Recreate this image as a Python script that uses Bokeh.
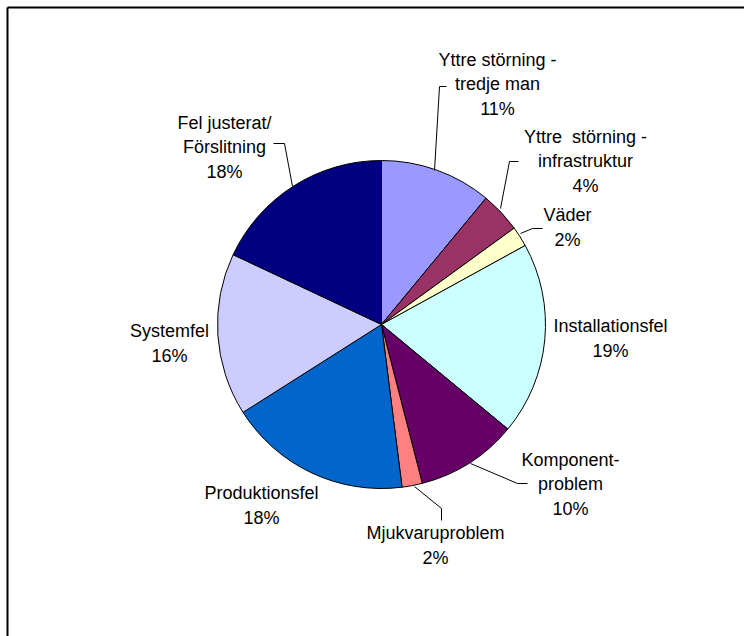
import math

from bokeh.core.properties import value
from bokeh.embed import file_html
from bokeh.models import ColumnDataSource, Range1d
from bokeh.plotting import figure
from bokeh.resources import INLINE

# Fault causes, clockwise from 12 o'clock
categories = [
    "Yttre störning -\ntredje man",
    "Yttre\u00a0 störning -\ninfrastruktur",
    "Väder",
    "Installationsfel",
    "Komponent-\nproblem",
    "Mjukvaruproblem",
    "Produktionsfel",
    "Systemfel",
    "Fel justerat/\nFörslitning",
]
percent = [11, 4, 2, 19, 10, 2, 18, 16, 18]
colors = ["#9999FF", "#993366", "#FFFFCC", "#CCFFFF", "#660066",
          "#FF8080", "#0066CC", "#CCCCFF", "#000080"]

W, H = 744, 636
CX, CY, R = 381, 324, 164          # pie centre / radius in page pixels (y down)
FONT = "Liberation Sans"
FONT_SIZE = "18px"

# label block centres (page pixels, y down) and optional leader polylines
label_pos = [
    (497, 84), (585, 161), (567, 227), (610, 338), (570, 484),
    (435, 545), (261, 505), (169, 343), (224, 147),
]
leaders = [
    [(434, 170), (439, 86), (446, 86)],
    [(500, 208), (509, 161), (518, 161)],
    [(520, 233), (532, 228), (542, 228)],
    None,
    [(470, 463), (517, 483), (527, 483)],
    [(414, 486), (441, 508), (441, 520)],
    None,
    None,
    [(292, 186), (284, 143), (273, 143)],
]


def fy(y):
    return H - y


total = float(sum(percent))
starts, ends = [], []
acc = 0.0
for v in percent:
    a0 = math.pi / 2 - 2 * math.pi * acc / total
    acc += v
    a1 = math.pi / 2 - 2 * math.pi * acc / total
    starts.append(a0)
    ends.append(a1)

src = ColumnDataSource(dict(start=starts, end=ends, color=colors, cat=categories, pct=percent))

p = figure(width=W, height=H, x_range=Range1d(0, W), y_range=Range1d(0, H),
           x_axis_type=None, y_axis_type=None, toolbar_location=None,
           output_backend="svg", min_border=0)
p.grid.visible = False
p.outline_line_color = None
p.background_fill_color = "white"
p.border_fill_color = "white"

# chart frame (runs past the right and bottom of the page)
p.multi_line(xs=[[7, 7], [7, W + 20]], ys=[[fy(7), -20], [fy(7), fy(7)]],
             line_color="#000000", line_width=2)

p.wedge(x=CX, y=fy(CY), radius=R, start_angle="start", end_angle="end",
        direction="clock", fill_color="color", line_color="#000000",
        line_width=1, source=src)

lx, ly = [], []
for seg in leaders:
    if seg:
        lx.append([pt[0] for pt in seg])
        ly.append([fy(pt[1]) for pt in seg])
p.multi_line(xs=lx, ys=ly, line_color="#000000", line_width=1)

texts = [f"{c}\n{v}%" for c, v in zip(categories, percent)]
p.text(x=[q[0] for q in label_pos], y=[fy(q[1]) for q in label_pos], text=texts,
       text_align="center", text_baseline="middle", text_font=value(FONT),
       text_font_size=FONT_SIZE, text_color="#000000", text_line_height=1.22)

open("out.html", "w").write(file_html(p, INLINE))
